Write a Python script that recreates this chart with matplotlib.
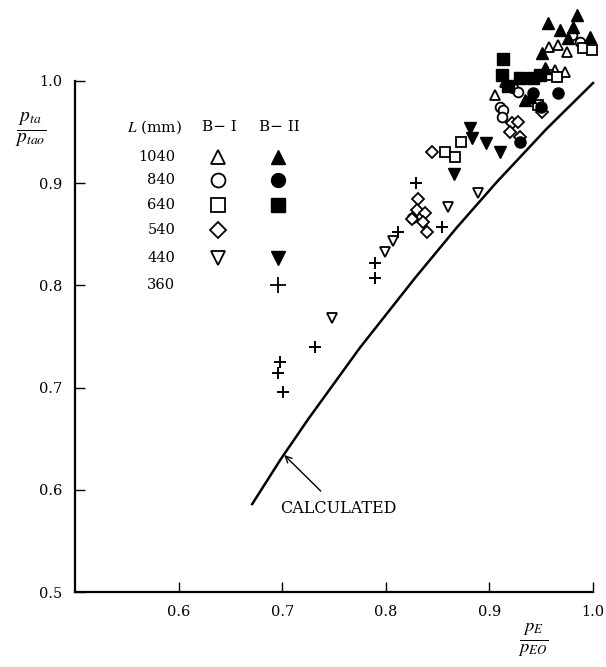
import matplotlib.pyplot as plt

plt.rcParams['font.family'] = ['DejaVu Serif']
plt.rcParams['mathtext.fontset'] = 'stix'

# B-I (open markers)
b1_1040_x = [0.905, 0.915, 0.955, 0.958, 0.966, 0.975, 0.963, 0.973]
b1_1040_y = [0.986, 0.999, 1.012, 1.033, 1.035, 1.028, 1.011, 1.009]
b1_840_x = [0.980, 0.987, 0.923, 0.928, 0.910, 0.913, 0.912, 0.825]
b1_840_y = [1.045, 1.038, 0.993, 0.989, 0.975, 0.972, 0.965, 0.866]
b1_640_x = [0.990, 0.999, 0.957, 0.965, 0.947, 0.873, 0.857, 0.867]
b1_640_y = [1.032, 1.030, 1.006, 1.004, 0.977, 0.940, 0.931, 0.926]
b1_540_x = [0.845, 0.831, 0.830, 0.838, 0.825, 0.836, 0.840, 0.922, 0.928, 0.920, 0.930, 0.951]
b1_540_y = [0.931, 0.885, 0.874, 0.871, 0.865, 0.862, 0.852, 0.959, 0.960, 0.950, 0.945, 0.970]
b1_440_x = [0.889, 0.860, 0.799, 0.807, 0.748]
b1_440_y = [0.890, 0.877, 0.833, 0.843, 0.768]

# B-II (filled markers)
b2_1040_x = [0.957, 0.985, 0.968, 0.981, 0.976, 0.997, 0.951, 0.954, 0.939, 0.934]
b2_1040_y = [1.057, 1.065, 1.050, 1.053, 1.042, 1.043, 1.027, 1.013, 0.984, 0.981]
b2_840_x = [0.966, 0.942, 0.930, 0.950]
b2_840_y = [0.988, 0.988, 0.940, 0.975]
b2_640_x = [0.913, 0.949, 0.942, 0.912, 0.930, 0.918]
b2_640_y = [1.022, 1.006, 1.003, 1.006, 1.003, 0.995]
b2_440_x = [0.881, 0.883, 0.897, 0.910, 0.866]
b2_440_y = [0.954, 0.944, 0.939, 0.931, 0.909]
b2_360_x = [0.829, 0.854, 0.812, 0.790, 0.790, 0.732, 0.698, 0.696, 0.701]
b2_360_y = [0.900, 0.857, 0.852, 0.822, 0.807, 0.740, 0.725, 0.714, 0.696]

# calculated curve
calc_x = [0.671, 0.698, 0.725, 0.775, 0.828, 0.868, 0.907, 0.955, 1.000]
calc_y = [0.586, 0.629, 0.669, 0.739, 0.807, 0.856, 0.901, 0.953, 0.998]

lengths = ['1040', '840', '640', '540', '440', '360']
markers = ['^', 'o', 's', 'D', 'v', '+']
has_b1 = [True, True, True, True, True, False]
has_b2 = [True, True, True, False, True, True]

fig = plt.figure(figsize=(6.06, 6.67), dpi=100)
ax = fig.add_axes([75/606, 75/667, 518/606, 511/667])
ax.set_xlim(0.5, 1.0)
ax.set_ylim(0.5, 1.0)
ax.spines['top'].set_visible(False)
ax.spines['right'].set_visible(False)
ax.spines['left'].set_linewidth(1.6)
ax.spines['bottom'].set_linewidth(1.6)
ax.set_xticks([0.6, 0.7, 0.8, 0.9, 1.0])
ax.set_yticks([0.5, 0.6, 0.7, 0.8, 0.9, 1.0])
ax.tick_params(direction='in', length=7, width=1, labelsize=10.5, pad=9)

ax.plot(calc_x, calc_y, color='black', lw=1.8, clip_on=False)
ax.annotate('CALCULATED', xy=(0.702, 0.634), xytext=(0.754, 0.582),
            ha='center', va='center', fontsize=11.5,
            arrowprops=dict(arrowstyle='->', color='black', lw=1,
                            shrinkA=6, shrinkB=0))

open_series = [(b1_1040_x, b1_1040_y, '^'), (b1_840_x, b1_840_y, 'o'),
               (b1_640_x, b1_640_y, 's'), (b1_540_x, b1_540_y, 'D'),
               (b1_440_x, b1_440_y, 'v')]
filled_series = [(b2_1040_x, b2_1040_y, '^'), (b2_840_x, b2_840_y, 'o'),
                 (b2_640_x, b2_640_y, 's'), (b2_440_x, b2_440_y, 'v')]

for xs, ys, m in open_series:
    ms = 6 if m == 'D' else 7
    ax.plot(xs, ys, ls='none', marker=m, ms=ms, mfc='white', mec='black',
            mew=1.3, clip_on=False)
for xs, ys, m in filled_series:
    ax.plot(xs, ys, ls='none', marker=m, ms=8, mfc='black', mec='black',
            clip_on=False)
ax.plot(b2_360_x, b2_360_y, ls='none', marker='+', ms=8, mec='black',
        mew=1.4, clip_on=False)

# legend table
ax.text(0.577, 0.955, r'$L$ (mm)', ha='center', va='center', fontsize=11)
ax.text(0.639, 0.955, 'B− I', ha='center', va='center', fontsize=11)
ax.text(0.697, 0.955, 'B− II', ha='center', va='center', fontsize=11)
row_y = [0.926, 0.903, 0.879, 0.854, 0.827, 0.800]
for i in range(len(lengths)):
    ax.text(0.597, row_y[i], lengths[i], ha='right', va='center', fontsize=10.5)
    if has_b1[i]:
        ax.plot(0.638, row_y[i], marker=markers[i], ms=10 if markers[i] != 'D' else 8.5,
                mfc='white', mec='black', mew=1.3)
    if has_b2[i]:
        if markers[i] == '+':
            ax.plot(0.696, row_y[i], marker='+', ms=11, mec='black', mew=1.3)
        else:
            ax.plot(0.696, row_y[i], marker=markers[i], ms=10, mfc='black', mec='black')

fig.text(0.05, 0.805, r'$\frac{p_{ta}}{p_{tao}}$', ha='center', va='center', fontsize=20)
fig.text(0.88, 0.040, r'$\frac{p_E}{p_{EO}}$', ha='center', va='center', fontsize=19)

fig.savefig('out.png', dpi=100)
